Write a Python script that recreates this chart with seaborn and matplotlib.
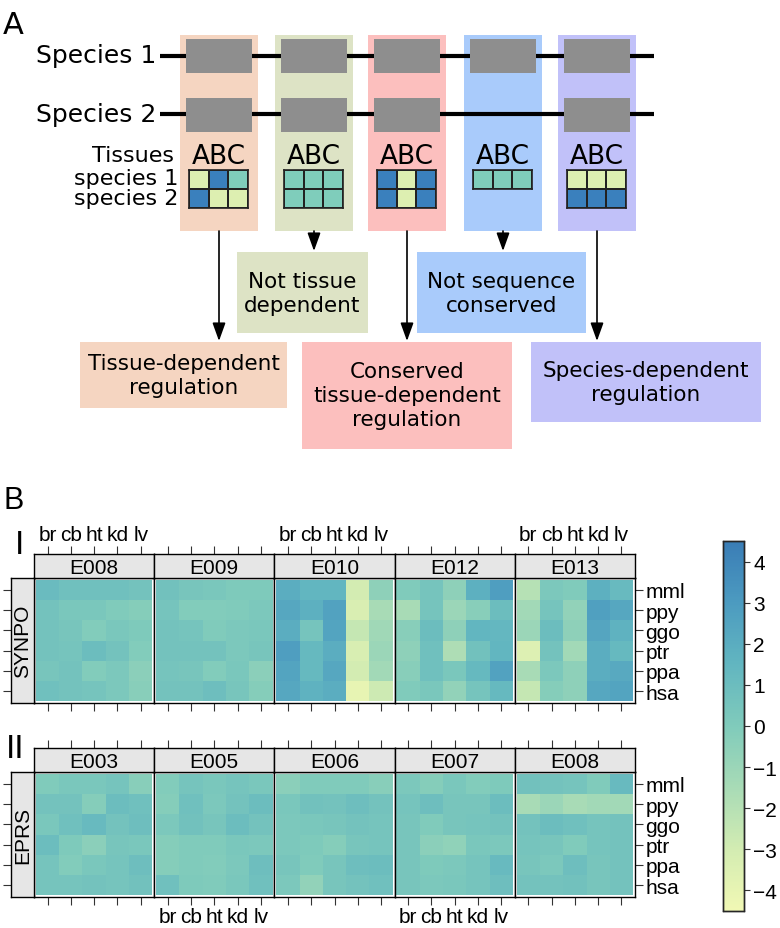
import numpy as np
import pandas as pd
import matplotlib
matplotlib.use("Agg")
import matplotlib.pyplot as plt
from matplotlib.colors import LinearSegmentedColormap, ListedColormap
from matplotlib.patches import Rectangle
import seaborn as sns

sns.set_style("white")
plt.rcParams["font.family"] = ["Liberation Sans", "DejaVu Sans"]
plt.rcParams["text.color"] = "black"
plt.rcParams["xtick.color"] = "black"
plt.rcParams["ytick.color"] = "black"
plt.rcParams["axes.labelcolor"] = "black"

# ---------------- data ----------------
tissues = ["br", "cb", "ht", "kd", "lv"]
species = ["mml", "ppy", "ggo", "ptr", "ppa", "hsa"]

synpo_samples = ["E008", "E009", "E010", "E012", "E013"]
eprs_samples = ["E003", "E005", "E006", "E007", "E008"]

synpo_e008 = [[1.1, 0.8, 0.8, 0.8, 0.6],
              [0.6, 0.3, 0.3, 0.0, -0.2],
              [0.6, 0.4, -0.1, 0.3, 0.1],
              [0.6, 0.5, 1.0, 0.6, -0.1],
              [0.4, 0.6, -0.1, 0.2, -0.4],
              [0.8, 0.6, 0.5, 0.2, -0.3]]
synpo_e009 = [[0.7, 0.4, 0.3, 0.1, 0.1],
              [0.5, -0.1, -0.1, 0.0, 0.2],
              [0.6, 0.5, 0.0, 0.2, 0.3],
              [0.6, 0.6, 0.6, 0.2, 0.4],
              [0.5, 0.4, -0.1, 0.3, -0.4],
              [0.6, 0.6, 0.9, 0.4, -0.2]]
synpo_e010 = [[2.0, 1.5, 1.5, -3.0, -0.5],
              [2.3, 1.8, 2.6, -3.3, -1.5],
              [2.0, 0.5, 2.5, -2.5, -1.2],
              [2.8, 1.3, 2.0, -3.2, -1.0],
              [2.5, 1.3, 2.3, -3.0, -1.3],
              [2.3, 1.7, 2.0, -4.0, -2.8]]
synpo_e012 = [[0.0, 0.5, -0.5, 1.8, 2.8],
              [-1.5, 0.5, -1.0, -0.3, 1.0],
              [-0.3, 1.0, -0.5, 1.5, 1.4],
              [-0.5, 0.8, -1.7, 0.7, 1.5],
              [-0.3, 0.8, 0.3, 1.3, 2.6],
              [0.0, 0.3, -0.7, 0.5, 1.3]]
synpo_e013 = [[-2.0, 0.2, 0.0, 1.8, 1.2],
              [-1.3, 0.5, -0.7, 2.7, 2.3],
              [-1.0, 1.0, -0.5, 2.4, 1.7],
              [-3.5, 0.6, -1.3, 2.0, 1.3],
              [-1.5, 0.2, -0.5, 2.0, 2.2],
              [-2.5, -0.2, -0.5, 2.3, 2.5]]

eprs_e003 = [[0.0, 0.3, 0.3, 0.5, -0.3],
             [0.6, 0.6, -0.2, 1.0, 0.8],
             [0.3, 0.8, 1.2, 0.6, 0.9],
             [1.0, 0.1, -0.4, 0.4, 0.3],
             [0.5, -0.1, 0.3, 0.5, 0.9],
             [0.5, 0.5, 0.6, 0.5, 0.7]]
eprs_e005 = [[-0.1, 0.5, 0.3, 0.5, 0.3],
             [-0.2, 0.8, 0.2, 0.6, 1.0],
             [0.2, 0.7, 0.4, 1.0, 0.6],
             [-0.2, 0.0, 0.0, 0.3, 0.2],
             [-0.2, 0.0, -0.1, 0.2, 0.9],
             [0.8, 0.1, 0.0, 0.3, 0.8]]
eprs_e006 = [[-0.4, 0.0, 0.0, 0.0, -0.3],
             [0.3, 0.7, 0.6, 0.9, 0.6],
             [0.2, 0.3, 0.4, 0.6, 0.5],
             [0.2, 0.1, -0.2, 0.4, 0.5],
             [0.4, 0.0, 0.4, 0.9, 1.0],
             [0.2, -0.7, 0.4, 0.6, 0.8]]
eprs_e007 = [[0.2, -0.2, 0.3, -0.1, 0.1],
             [0.5, 0.9, 0.4, 0.4, 1.0],
             [0.4, 0.0, 0.4, 0.5, 0.6],
             [0.4, -0.4, -0.6, 0.3, 0.2],
             [0.4, 0.1, 0.2, 0.5, 1.2],
             [0.4, 0.2, 0.3, 0.5, 0.9]]
eprs_e008 = [[0.7, 0.6, 0.5, 0.0, 1.2],
             [-1.5, -1.0, -1.5, -1.3, -1.3],
             [0.6, 1.0, 0.8, 0.5, 0.6],
             [0.5, 0.4, 0.0, 0.5, 0.6],
             [0.4, 0.2, 0.9, 0.4, 0.6],
             [0.6, 0.6, 0.7, 0.4, 0.6]]

synpo_data = [synpo_e008, synpo_e009, synpo_e010, synpo_e012, synpo_e013]
eprs_data = [eprs_e003, eprs_e005, eprs_e006, eprs_e007, eprs_e008]

# panel A schematic
class_names = ["Tissue-dependent\nregulation", "Not tissue\ndependent",
               "Conserved\ntissue-dependent\nregulation", "Not sequence\nconserved",
               "Species-dependent\nregulation"]
class_colors = ["#f5d5c1", "#dde3c5", "#fcbfbe", "#a9cbfb", "#c1c1f9"]
species2_present = [True, True, True, False, True]
# tile levels: 0 low, 1 mid, 2 high
tiles_sp1 = [[0, 2, 1], [1, 1, 1], [2, 0, 2], [1, 1, 1], [0, 0, 0]]
tiles_sp2 = [[2, 0, 0], [1, 1, 1], [2, 0, 2], None, [2, 2, 2]]

# ---------------- figure ----------------
W, H = 780, 929
fig = plt.figure(figsize=(W / 100, H / 100), dpi=100)


def box(x0, y0, x1, y1):
    return [x0 / W, 1 - y1 / H, (x1 - x0) / W, (y1 - y0) / H]


ax0 = fig.add_axes([0, 0, 1, 1])
ax0.set_xlim(0, W)
ax0.set_ylim(H, 0)
ax0.axis("off")

fa = "DejaVu Sans"
ax0.text(3, 25, "A", fontsize=22, family=fa, va="center", ha="left")
ax0.text(156, 63, "Species 1", fontsize=18, family=fa, ha="right", va="baseline")
ax0.text(156, 122, "Species 2", fontsize=18, family=fa, ha="right", va="baseline")
ax0.text(174, 156, "Tissues", fontsize=16, family=fa, ha="right", va="center")
ax0.text(178, 179, "species 1", fontsize=16, family=fa, ha="right", va="center")
ax0.text(178, 199, "species 2", fontsize=16, family=fa, ha="right", va="center")

col_left = [180, 275, 368, 464, 558]
col_w = 78
for i, c in enumerate(class_colors):
    ax0.add_patch(Rectangle((col_left[i], 36), col_w, 196, color=c, lw=0, zorder=1))

ax0.plot([160, 654], [57, 57], color="black", lw=3, zorder=2, solid_capstyle="butt")
ax0.plot([160, 654], [115, 115], color="black", lw=3, zorder=2, solid_capstyle="butt")

tile_cmap = ListedColormap(["#ddefb1", "#7fcdbb", "#3a80bd"])
for i in range(5):
    gx = col_left[i] + 6
    ax0.add_patch(Rectangle((gx, 40), 66, 34, color="#8e8e8e", lw=0, zorder=3))
    if species2_present[i]:
        ax0.add_patch(Rectangle((gx, 99), 66, 34, color="#8e8e8e", lw=0, zorder=3))
    cx = col_left[i] + col_w / 2
    ax0.text(cx, 157, "ABC", fontsize=19, family=fa, ha="center", va="center")
    rows = [tiles_sp1[i]] + ([tiles_sp2[i]] if tiles_sp2[i] is not None else [])
    tx0 = col_left[i] + 9
    axt = fig.add_axes(box(tx0, 171, tx0 + 59, 171 + 19 * len(rows)))
    sns.heatmap(np.array(rows), ax=axt, cmap=tile_cmap, vmin=-0.5, vmax=2.5,
                cbar=False, linewidths=1.2, linecolor="#222222",
                xticklabels=False, yticklabels=False)
    for s in axt.spines.values():
        s.set_visible(True)
        s.set_linewidth(1.2)
        s.set_color("#222222")

# arrows and result boxes
arrow_end = [342, 252, 342, 252, 342]
result_boxes = [(80, 343, 287, 409), (237, 253, 368, 334), (302, 343, 512, 450),
                (417, 253, 586, 334), (531, 343, 761, 423)]
for i in range(5):
    cx = col_left[i] + col_w / 2
    ax0.annotate("", xy=(cx, arrow_end[i]), xytext=(cx, 232),
                 arrowprops=dict(arrowstyle="-|>,head_length=0.5,head_width=0.18",
                                 color="black", lw=1.2, mutation_scale=22,
                                 shrinkA=0, shrinkB=0), zorder=4)
    x0, y0, x1, y1 = result_boxes[i]
    ax0.add_patch(Rectangle((x0, y0), x1 - x0, y1 - y0, color=class_colors[i], lw=0, zorder=1))
    ax0.text((x0 + x1) / 2, (y0 + y1) / 2, class_names[i], fontsize=15.5, family=fa,
             ha="center", va="center", linespacing=1.25, zorder=5)

# ---------------- panel B ----------------
cmap = LinearSegmentedColormap.from_list(
    "ygb", ["#f1f8b4", "#d3ecb2", "#a8dbb6", "#80cbbb", "#62b6c0", "#4c9bc0", "#3a7db6"])
vmin, vmax = -4.5, 4.5

ax0.text(4, 501, "B", fontsize=22, va="center", ha="left")
ax0.text(19, 545, "I", fontsize=24, va="center", ha="center")
ax0.text(15, 749, "II", fontsize=24, va="center", ha="center")

panel_x = [34 + k * 120.2 for k in range(6)]
pad = 0.08
lab_fs = 15
tick_len = 5.5

cax = fig.add_axes(box(723, 542, 744, 912))


def draw_row(gene, samples, data, ys, top_labels, bottom_labels, last_cbar):
    strip_top, strip_bot, hm_bot = ys
    for k in range(5):
        df = pd.DataFrame(data[k], index=species, columns=tissues)
        ax = fig.add_axes(box(panel_x[k], strip_bot, panel_x[k + 1], hm_bot))
        use_cbar = last_cbar and k == 4
        sns.heatmap(df, ax=ax, cmap=cmap, vmin=vmin, vmax=vmax,
                    cbar=use_cbar, cbar_ax=cax if use_cbar else None,
                    xticklabels=False, yticklabels=False)
        ax.set_facecolor("white")
        ax.set_xlim(-pad, 5 + pad)
        ax.set_ylim(6 + pad, -pad)
        for s in ax.spines.values():
            s.set_visible(True)
            s.set_color("black")
            s.set_linewidth(1)
        ax.set_xlabel("")
        ax.set_ylabel("")
        ax.set_xticks(np.arange(5) + 0.5)
        ax.tick_params(axis="x", bottom=True, top=False, direction="out",
                       length=tick_len, width=0.8, color="#333333",
                       labelsize=lab_fs, pad=2)
        if k in bottom_labels:
            ax.set_xticklabels(tissues)
        else:
            ax.set_xticklabels([])
        if k == 4:
            ax.yaxis.tick_right()
            ax.set_yticks(np.arange(6) + 0.5)
            ax.set_yticklabels(species, rotation=0)
            ax.tick_params(axis="y", right=True, left=False, direction="out",
                           length=tick_len, width=0.8, color="#333333",
                           labelsize=lab_fs, pad=2)
        else:
            ax.set_yticks([])

        # strip with sample name
        sa = fig.add_axes(box(panel_x[k], strip_top, panel_x[k + 1], strip_bot))
        sa.set_facecolor("#e6e6e6")
        sa.set_xlim(-pad, 5 + pad)
        sa.set_ylim(0, 1)
        for s in sa.spines.values():
            s.set_visible(True)
            s.set_color("black")
            s.set_linewidth(1)
        sa.text(2.5, 0.45, samples[k], ha="center", va="center", fontsize=lab_fs)
        sa.set_yticks([])
        sa.set_xticks(np.arange(5) + 0.5)
        sa.xaxis.tick_top()
        sa.tick_params(axis="x", top=True, bottom=False, direction="out",
                       length=tick_len, width=0.8, color="#333333",
                       labelsize=lab_fs, pad=2)
        sa.set_xticklabels(tissues if k in top_labels else [])

    # gene strip on the left
    ga = fig.add_axes(box(11, strip_bot, 34, hm_bot))
    ga.set_facecolor("#e6e6e6")
    ga.set_xlim(0, 1)
    ga.set_ylim(6 + pad, -pad)
    for s in ga.spines.values():
        s.set_visible(True)
        s.set_color("black")
        s.set_linewidth(1)
    ga.text(0.5, 3, gene, rotation=90, ha="center", va="center", fontsize=lab_fs)
    ga.set_xticks([])
    ga.set_yticks(np.arange(6) + 0.5)
    ga.set_yticklabels([])
    ga.tick_params(axis="y", left=True, right=False, direction="out",
                   length=tick_len, width=0.8, color="#333333")


draw_row("SYNPO", synpo_samples, synpo_data, (555, 579, 704), [0, 2, 4], [], True)
draw_row("EPRS", eprs_samples, eprs_data, (749, 773, 898), [], [1, 3], False)

cax.set_yticks(np.arange(-4, 5))
cax.tick_params(axis="y", direction="out", length=4.5, width=0.8,
                labelsize=lab_fs, pad=2, color="#333333")
for s in cax.spines.values():
    s.set_visible(True)
    s.set_linewidth(1)

fig.savefig("out.png", dpi=100)
